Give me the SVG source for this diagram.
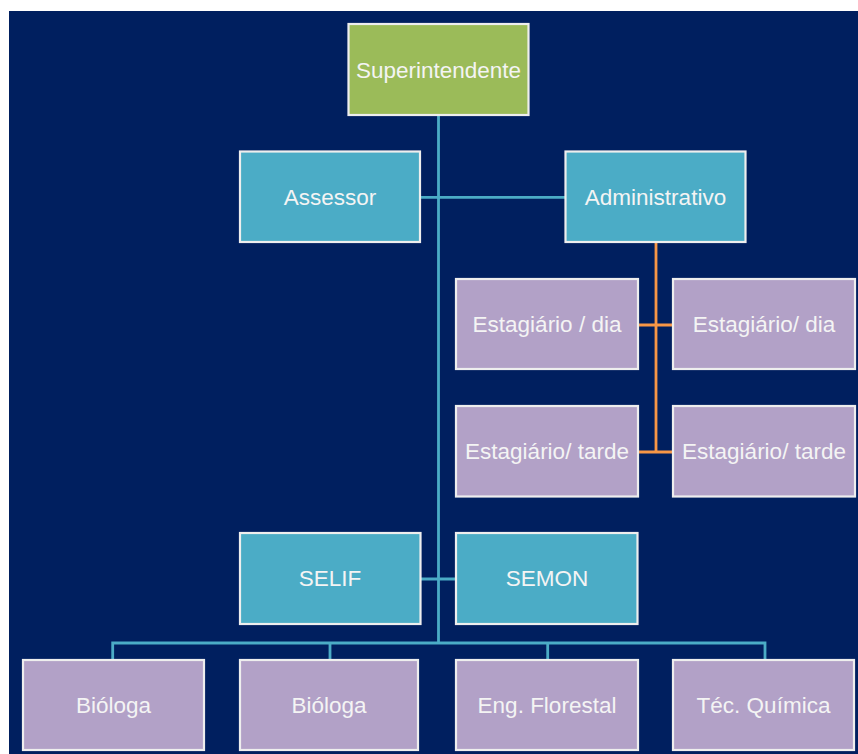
<svg xmlns="http://www.w3.org/2000/svg" width="858" height="754" viewBox="0 0 858 754">
<style>
.box{stroke:#EEEEEE;stroke-width:2.2}
.g{fill:#9BBB59}.t{fill:#4BACC6}.l{fill:#B2A1C7}
text{font-family:"Liberation Sans",Arial,sans-serif;font-size:22.5px;fill:#F4F4F4;text-anchor:middle}
.c{fill:none;stroke:#4BACC6;stroke-width:2.8}
.o{fill:none;stroke:#F79646;stroke-width:2.8}
</style>
<rect x="0" y="0" width="858" height="754" fill="#FFFFFF"/>
<rect x="9" y="11" width="849" height="743" fill="#001F5F"/>
<g id="connectors">
<path class="c" d="M438.5 115V643M420 197.3H565M420 579H456M112.7 660V643H765V660M330 643V660M547.7 643V660"/>
<path class="o" d="M656 242V452M638 325H673M638 452H673"/>
</g>
<g id="superintendente"><rect class="box g" x="348.5" y="24" width="180" height="91"/><text x="438.5" y="77.5">Superintendente</text></g>
<g id="assessor"><rect class="box t" x="240" y="151.5" width="180" height="90.5"/><text x="330" y="204.5">Assessor</text></g>
<g id="administrativo"><rect class="box t" x="565.5" y="151.5" width="180" height="90.5"/><text x="655.5" y="204.5">Administrativo</text></g>
<g id="estagiario-dia-1"><rect class="box l" x="456" y="279" width="182" height="90"/><text x="547" y="332">Estagiário / dia</text></g>
<g id="estagiario-dia-2"><rect class="box l" x="673" y="279" width="182" height="90"/><text x="764" y="332">Estagiário/ dia</text></g>
<g id="estagiario-tarde-1"><rect class="box l" x="456" y="406" width="182" height="90.5"/><text x="547" y="459">Estagiário/ tarde</text></g>
<g id="estagiario-tarde-2"><rect class="box l" x="673" y="406" width="182" height="90.5"/><text x="764" y="459">Estagiário/ tarde</text></g>
<g id="selif"><rect class="box t" x="240" y="533" width="180.5" height="91"/><text x="330" y="586">SELIF</text></g>
<g id="semon"><rect class="box t" x="456" y="533" width="181.5" height="91"/><text x="547" y="586">SEMON</text></g>
<g id="biologa-1"><rect class="box l" x="23" y="660" width="181" height="90"/><text x="113.5" y="713">Bióloga</text></g>
<g id="biologa-2"><rect class="box l" x="240" y="660" width="178" height="90"/><text x="329" y="713">Bióloga</text></g>
<g id="eng-florestal"><rect class="box l" x="456" y="660" width="182" height="90"/><text x="547" y="713">Eng. Florestal</text></g>
<g id="tec-quimica"><rect class="box l" x="673" y="660" width="181" height="90"/><text x="763.5" y="713">Téc. Química</text></g>
</svg>
